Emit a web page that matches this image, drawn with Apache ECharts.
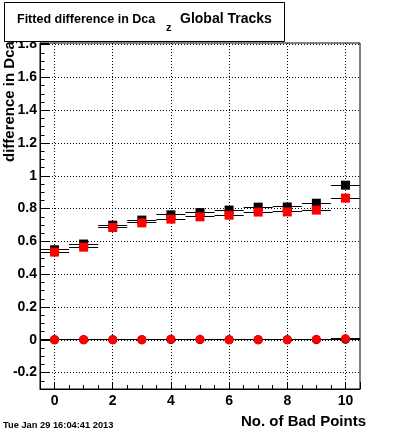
<!DOCTYPE html>
<html><head><meta charset="utf-8">
<script src="https://cdn.jsdelivr.net/npm/echarts@6/dist/echarts.min.js"></script>
<style>html,body{margin:0;padding:0;background:#fff}#c{width:400px;height:433px}</style>
</head><body><div id="c"></div>
<script>
// ---- data ----
const badPoints  = [0, 1, 2, 3, 4, 5, 6, 7, 8, 9, 10];
const blackFit   = [0.549, 0.584, 0.699, 0.730, 0.762, 0.776, 0.791, 0.809, 0.810, 0.833, 0.943];
const redFit     = [0.535, 0.565, 0.685, 0.713, 0.736, 0.750, 0.760, 0.779, 0.780, 0.791, 0.864];
const blackFitErr= [0.008, 0.008, 0.008, 0.008, 0.008, 0.008, 0.008, 0.008, 0.008, 0.009, 0.012];
const redFitErr  = [0.008, 0.008, 0.008, 0.008, 0.008, 0.008, 0.008, 0.008, 0.008, 0.009, 0.012];
const blackZero  = [0, 0, 0, 0, 0.002, 0.001, 0, 0, 0, 0.001, 0.003];
const redZero    = [0, 0, 0, 0, 0.004, 0.003, 0, 0, 0, 0.003, 0.007];
const zeroErr    = [0.004, 0.004, 0.004, 0.004, 0.004, 0.004, 0.004, 0.004, 0.004, 0.004, 0.004];
const binHalfWidth = 0.5;
const xTickLabels = ['0', '2', '4', '6', '8', '10'];
const yTickLabels = ['-0.2', '0', '0.2', '0.4', '0.6', '0.8', '1', '1.2', '1.4', '1.6', '1.8'];

const FONT = '"Liberation Sans", Arial, sans-serif';
const chart = echarts.init(document.getElementById('c'));

function fmt(labels) {
  return function (v) {
    const s = String(Math.round(v * 1000) / 1000);
    return labels.indexOf(s) >= 0 ? s : '';
  };
}
function crisp(v) { return Math.round(v - 0.5) + 0.5; }

function errSeries(ys, es, z) {
  return {
    type: 'custom', z: z, silent: true, clip: true,
    data: badPoints.map((x, i) => [x, ys[i], es[i]]),
    encode: { x: 0, y: 1 },
    renderItem: function (params, api) {
      const x = api.value(0), y = api.value(1), e = api.value(2);
      const l = api.coord([x - binHalfWidth, y]), r = api.coord([x + binHalfWidth, y]);
      const t = api.coord([x, y + e]), b = api.coord([x, y - e]);
      const yy = crisp(l[1]), xx = crisp(t[0]);
      return { type: 'group', children: [
        { type: 'line', shape: { x1: l[0], y1: yy, x2: r[0], y2: yy }, style: { stroke: '#000', lineWidth: 1 } },
        { type: 'line', shape: { x1: xx, y1: t[1], x2: xx, y2: b[1] }, style: { stroke: '#000', lineWidth: 1 } }
      ] };
    }
  };
}
function markers(ys, symbol, size, color, z) {
  return {
    type: 'scatter', z: z, silent: true, symbol: symbol, symbolSize: size,
    itemStyle: { color: color, opacity: 1 },
    data: badPoints.map((x, i) => [x, ys[i]])
  };
}

const dotted = { color: '#000', width: 1, type: [1, 2] };
const txt = { color: '#000', fontFamily: FONT, fontWeight: 'bold', fontSize: 14 };

chart.setOption({
  animation: false,
  backgroundColor: '#fff',
  grid: { left: 40, top: 43, width: 320, height: 346, show: true, borderColor: '#000', borderWidth: 1, backgroundColor: 'transparent' },
  xAxis: [
    { type: 'value', min: -0.5, max: 10.5, splitNumber: 5, position: 'bottom',
      axisLine: { show: true, onZero: false, lineStyle: { color: '#000', width: 1 } },
      axisTick: { show: true, inside: true, length: 7, lineStyle: { color: '#000' } },
      axisLabel: Object.assign({ formatter: fmt(xTickLabels), margin: 5, showMinLabel: true, showMaxLabel: true }, txt),
      splitLine: { show: true, showMinLine: false, showMaxLine: false, lineStyle: dotted } },
    { type: 'value', min: -0.5, max: 10.5, interval: 0.5, position: 'bottom', offset: 0,
      axisLine: { show: false, onZero: false },
      axisTick: { show: true, inside: true, length: 4, lineStyle: { color: '#000' } },
      axisLabel: { show: false }, splitLine: { show: false } }
  ],
  yAxis: [
    { type: 'value', min: -0.3, max: 1.81, splitNumber: 10, position: 'left',
      axisLine: { show: true, onZero: false, lineStyle: { color: '#000', width: 1 } },
      axisTick: { show: true, inside: true, length: 9, lineStyle: { color: '#000' } },
      axisLabel: Object.assign({ formatter: fmt(yTickLabels), margin: 3, showMinLabel: true, showMaxLabel: true }, txt),
      splitLine: { show: true, showMinLine: false, showMaxLine: false, lineStyle: dotted } },
    { type: 'value', min: -0.3, max: 1.81, interval: 0.05, position: 'left', offset: 0,
      axisLine: { show: false, onZero: false },
      axisTick: { show: true, inside: true, length: 4.5, lineStyle: { color: '#000' } },
      axisLabel: { show: false }, splitLine: { show: false } }
  ],
  series: [
    errSeries(blackFit, blackFitErr, 2),
    errSeries(redFit, redFitErr, 2),
    errSeries(blackZero, zeroErr, 2),
    errSeries(redZero, zeroErr, 2),
    markers(blackFit, 'rect', 9, '#000', 3),
    markers(blackZero, 'circle', 9, '#000', 3),
    markers(redFit, 'rect', 9, '#ff0000', 4),
    markers(redZero, 'circle', 9, '#ff0000', 4)
  ],
  graphic: [
    { type: 'text', z: 50, rotation: Math.PI / 2, x: 9.7, y: 162,
      style: { text: 'difference in Dca', font: 'bold 15px ' + FONT, fill: '#000', align: 'left', verticalAlign: 'middle' } },
    { type: 'text', z: 50, rotation: Math.PI / 2, x: 19, y: 44,
      style: { text: 'z', font: 'bold 11px ' + FONT, fill: '#000', align: 'left', verticalAlign: 'middle' } },
    { type: 'rect', z: 100, shape: { x: 4.5, y: 2.5, width: 280, height: 39 },
      style: { fill: '#fff', stroke: '#000', lineWidth: 1 } },
    { type: 'text', z: 101, x: 17, y: 19.2,
      style: { text: 'Fitted difference in Dca', font: 'bold 12.5px ' + FONT, fill: '#000', align: 'left', verticalAlign: 'middle' } },
    { type: 'text', z: 101, x: 166, y: 27.5,
      style: { text: 'z', font: 'bold 11px ' + FONT, fill: '#000', align: 'left', verticalAlign: 'middle' } },
    { type: 'text', z: 101, x: 180, y: 19.2,
      style: { text: 'Global Tracks', font: 'bold 14px ' + FONT, fill: '#000', align: 'left', verticalAlign: 'middle' } },
    { type: 'text', z: 50, x: 366, y: 422,
      style: { text: 'No. of Bad Points', font: 'bold 15px ' + FONT, fill: '#000', align: 'right', verticalAlign: 'middle' } },
    { type: 'text', z: 50, x: 3, y: 425,
      style: { text: 'Tue Jan 29 16:04:41 2013', font: 'bold 9.3px ' + FONT, fill: '#000', align: 'left', verticalAlign: 'middle' } }
  ]
});
</script>
</body></html>
